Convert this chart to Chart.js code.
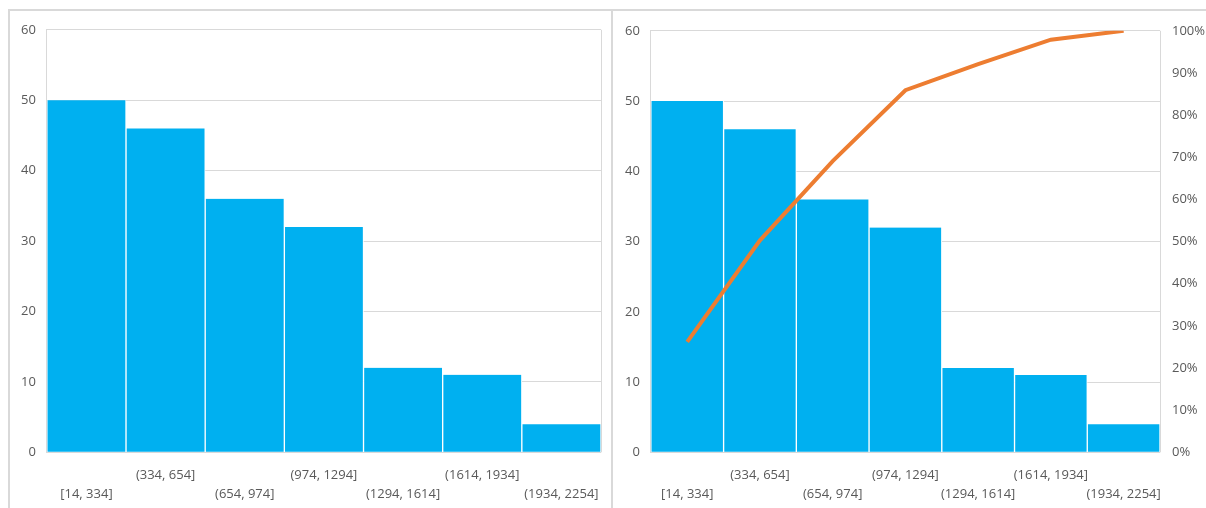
<!DOCTYPE html>
<html>
<head>
<meta charset="utf-8">
<script src="https://cdn.jsdelivr.net/npm/chart.js@4"></script>
<style>
    body { margin: 0; background: #fff; width: 1206px; height: 508px; overflow: hidden; }
    .frame { position: absolute; left: 8px; top: 9px; width: 1206px; height: 510px; border-top: 2px solid #d9d9d9; border-left: 2px solid #d9d9d9; }
    .panel { position: absolute; top: 11px; height: 502px; }
    #leftPanel { left: 10px; width: 601px; }
    #rightPanel { left: 611px; width: 595px; border-left: 2px solid #d9d9d9; }
</style>
</head>
<body>
<div class="frame"></div>
<div class="panel" id="leftPanel"><canvas id="histChart"></canvas></div>
<div class="panel" id="rightPanel"><canvas id="paretoChart"></canvas></div>
<script>
// Intervalles (étiquettes de l'axe X)
const bins = ['[14, 334]', '(334, 654]', '(654, 974]', '(974, 1294]', '(1294, 1614]', '(1614, 1934]', '(1934, 2254]'];
// Effectifs par intervalle
const counts = [50, 46, 36, 32, 12, 11, 4];
// Pourcentage cumulé (ligne de Pareto)
const cumulPct = [26.2, 50.3, 69.1, 85.9, 92.1, 97.9, 100];

const BAR_COLOR = '#00B0F0';
const LINE_COLOR = '#ED7D31';
const GRID_COLOR = '#d9d9d9';
const TEXT_COLOR = '#595959';

Chart.defaults.font.family = '"Open Sans", "Noto Sans", sans-serif';
Chart.defaults.font.size = 13;
Chart.defaults.color = TEXT_COLOR;
Chart.defaults.animation = false;

// Étiquettes décalées sur deux lignes, comme dans Excel
const staggered = bins.map((b, i) => i % 2 === 0 ? ['', b] : [b, '']);

function barDataset() {
    return {
        type: 'bar',
        data: counts,
        backgroundColor: BAR_COLOR,
        borderColor: '#ffffff',
        borderWidth: { left: 1, right: 1, top: 0, bottom: 0 },
        categoryPercentage: 1,
        barPercentage: 1,
        yAxisID: 'y',
        order: 2
    };
}

function xScale() {
    return {
        grid: { display: false },
        border: { display: false },
        ticks: { autoSkip: false, maxRotation: 0, minRotation: 0, padding: 6, font: { size: 13, lineHeight: 1.45 } }
    };
}

function yScale() {
    return {
        min: 0,
        max: 60,
        ticks: { stepSize: 10, padding: 11 },
        grid: { color: GRID_COLOR, drawTicks: false },
        border: { display: true, color: GRID_COLOR }
    };
}

const rightEdge = {
    id: 'rightEdge',
    afterDraw(chart) {
        const a = chart.chartArea;
        const ctx = chart.ctx;
        ctx.save();
        ctx.strokeStyle = GRID_COLOR;
        ctx.lineWidth = 1;
        ctx.beginPath();
        ctx.moveTo(Math.round(a.right) + 0.5, a.top);
        ctx.lineTo(Math.round(a.right) + 0.5, a.bottom);
        ctx.stroke();
        ctx.restore();
    }
};

// Histogramme seul
new Chart(document.getElementById('histChart'), {
    type: 'bar',
    data: { labels: staggered, datasets: [barDataset()] },
    options: {
        responsive: true,
        maintainAspectRatio: false,
        layout: { padding: { top: 18, right: 10, left: 0, bottom: 3 } },
        plugins: { legend: { display: false }, tooltip: { enabled: false } },
        scales: { x: xScale(), y: yScale() }
    },
    plugins: [rightEdge]
});

// Histogramme + courbe de Pareto
new Chart(document.getElementById('paretoChart'), {
    type: 'bar',
    data: {
        labels: staggered,
        datasets: [
            {
                type: 'line',
                data: cumulPct,
                borderColor: LINE_COLOR,
                borderWidth: 4,
                pointRadius: 0,
                tension: 0,
                yAxisID: 'y2',
                order: 1
            },
            barDataset()
        ]
    },
    options: {
        responsive: true,
        maintainAspectRatio: false,
        layout: { padding: { top: 18, right: 0, left: 1, bottom: 3 } },
        plugins: { legend: { display: false }, tooltip: { enabled: false } },
        scales: {
            x: xScale(),
            y: yScale(),
            y2: {
                position: 'right',
                min: 0,
                max: 100,
                ticks: { stepSize: 10, padding: 12, callback: v => v + '%' },
                grid: { display: false, drawTicks: false },
                border: { display: false },
                afterFit: scale => { scale.width = 48; }
            }
        }
    },
    plugins: [rightEdge]
});
</script>
</body>
</html>
